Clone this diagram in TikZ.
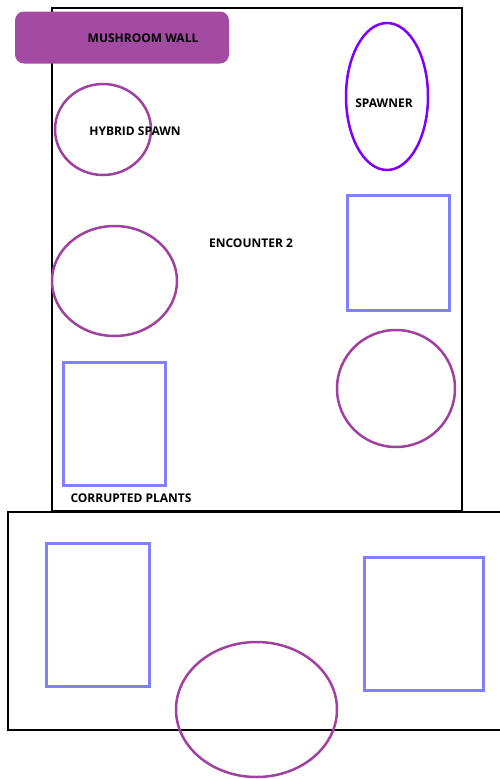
\documentclass[tikz,border=0pt]{standalone}
\usepackage{fontspec}
\setmainfont{Open Sans}
\usetikzlibrary{shapes.geometric}
\definecolor{plum}{RGB}{160,64,160}
\definecolor{wallfill}{RGB}{163,75,163}
\definecolor{violetline}{RGB}{128,0,255}
\definecolor{bluebox}{RGB}{128,128,255}
\tikzset{
  wall/.style={draw=black,line width=2.5pt},
  oval/.style={ellipse,draw=plum,line width=2.5pt,inner sep=0pt},
  bbox/.style={rectangle,draw=bluebox,line width=3pt,inner sep=0pt},
  lbl/.style={font=\bfseries\fontsize{12}{14}\selectfont,inner sep=0pt,text=black}
}
\begin{document}
\begin{tikzpicture}[x=1pt,y=-1pt]
\useasboundingbox (0,0) rectangle (500,779);
\fill[white] (0,0) rectangle (500,779);
% outer walls
\node[wall,rectangle,inner sep=0pt,minimum width=410pt,minimum height=503pt] (room) at (257,259.5) {};
\coordinate (b1) at (500,512);
\coordinate (b2) at (8,512);
\coordinate (b3) at (8,730);
\coordinate (b4) at (500,730);
\draw[wall,line join=miter] (b1) -- (b2) -- (b3) -- (b4);
% mushroom wall
\node[rectangle,rounded corners=9pt,fill=wallfill,minimum width=214pt,minimum height=52pt,inner sep=0pt] (mw) at (122,37.5) {};
\node[lbl] (mwt) at (143,38) {MUSHROOM WALL};
% hybrid spawn
\node[oval,minimum width=96pt,minimum height=91pt] (hs) at (103,129.5) {};
\node[lbl] (hst) at (135,131) {HYBRID SPAWN};
% spawner
\node[ellipse,draw=violetline,line width=2.5pt,inner sep=0pt,minimum width=82pt,minimum height=147pt] (sp) at (387,96.5) {};
\node[lbl] (spt) at (384,103) {SPAWNER};
% encounter
\node[lbl] (enc) at (251,243) {ENCOUNTER 2};
% left ellipse
\node[oval,minimum width=125pt,minimum height=110pt] (le) at (114.5,281) {};
% right blue box
\node[bbox,minimum width=102pt,minimum height=115pt] (rb) at (398,252.5) {};
% right ellipse
\node[oval,minimum width=118pt,minimum height=117pt] (re) at (396,388.5) {};
% left blue box
\node[bbox,minimum width=102pt,minimum height=123pt] (lb) at (114,423.5) {};
\node[lbl] (cp) at (131,498) {CORRUPTED PLANTS};
% bottom area
\node[bbox,minimum width=103pt,minimum height=143pt] (bl) at (97.5,614.5) {};
\node[bbox,minimum width=119pt,minimum height=133pt] (br) at (423.5,623.5) {};
\node[oval,minimum width=161pt,minimum height=135pt] (be) at (256.5,709.5) {};
\end{tikzpicture}
\end{document}
